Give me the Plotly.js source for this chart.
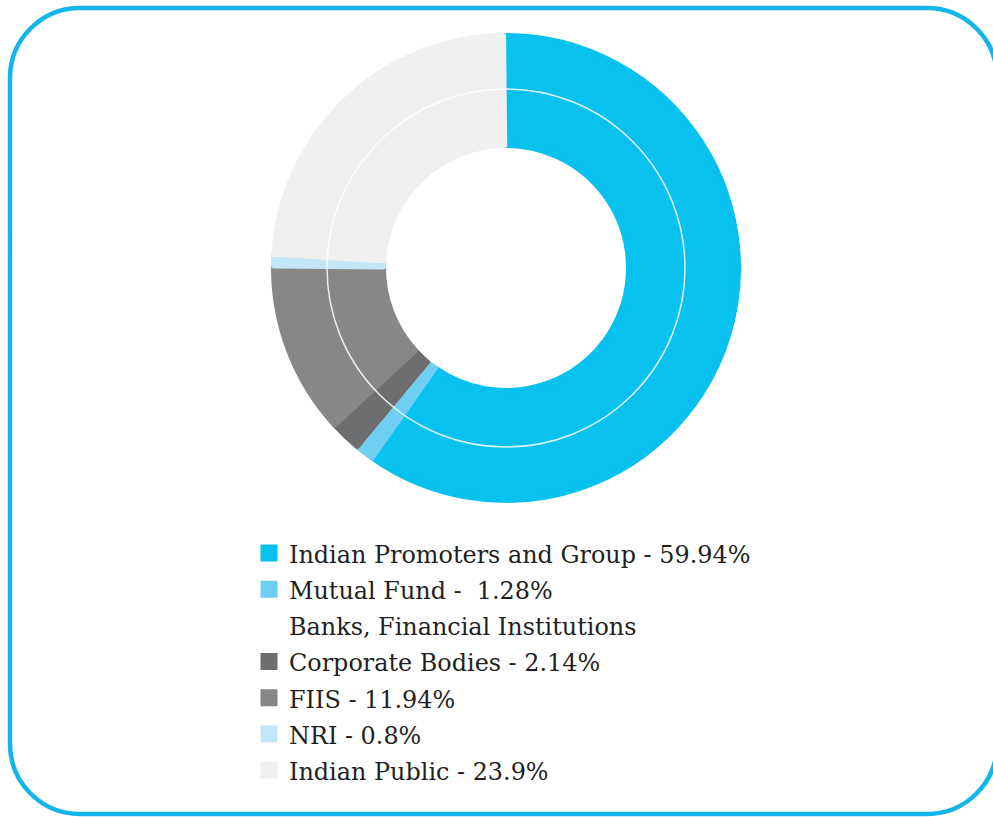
<!DOCTYPE html>
<html>
<head>
<meta charset="utf-8">
<script src="https://cdn.plot.ly/plotly-3.0.1.min.js"></script>
<style>
  html, body { margin: 0; padding: 0; background: #ffffff; }
  #chart { width: 993px; height: 817px; }
</style>
</head>
<body>
<div id="chart"></div>
<script>
// ---- data ----
const categories = [
  "Indian Promoters and Group",
  "Mutual Fund",
  "Banks, Financial Institutions",
  "Corporate Bodies",
  "FIIS",
  "NRI",
  "Indian Public"
];
const shareValues = [59.94, 1.28, 0, 2.14, 11.94, 0.8, 23.9];
const legendLabels = [
  "Indian Promoters and Group - 59.94%",
  "Mutual Fund - \u00a01.28%",
  "Banks, Financial Institutions",
  "Corporate Bodies - 2.14%",
  "FIIS - 11.94%",
  "NRI - 0.8%",
  "Indian Public - 23.9%"
];
const sliceColors = ["#08c1ef", "#6fcff3", "#ffffff", "#6d6e70", "#878787", "#c3e6f7", "#f0f0f0"];

// ---- geometry helpers (pixel -> paper) ----
const W = 993, H = 817;
const px = x => x / W;
const py = y => 1 - y / H;

const cx = 506, cy = 268, R = 232.5;
const holePx = 122.5;

const trace = {
  type: "pie",
  labels: legendLabels.map(s => '<span style="font-size:23.9px">' + s + '</span>'),
  values: shareValues,
  customdata: categories,
  sort: false,
  direction: "clockwise",
  rotation: -0.6,
  hole: holePx / R,
  textinfo: "none",
  hovertemplate: "%{customdata}: %{value}%<extra></extra>",
  marker: { colors: sliceColors, line: { color: sliceColors, width: 5 } },
  domain: { x: [px(cx - R), px(cx + R)], y: [py(cy + R), py(cy - R)] }
};

// rounded frame
const L = 10, T = 8, Rr = 997, B = 814, r = 70, k = 0.5523 * r;
const P = (x, y) => px(x) + "," + py(y);
const framePath =
  "M" + P(L + r, T) +
  " L" + P(Rr - r, T) +
  " C" + P(Rr - r + k, T) + " " + P(Rr, T + r - k) + " " + P(Rr, T + r) +
  " L" + P(Rr, B - r) +
  " C" + P(Rr, B - r + k) + " " + P(Rr - r + k, B) + " " + P(Rr - r, B) +
  " L" + P(L + r, B) +
  " C" + P(L + r - k, B) + " " + P(L, B - r + k) + " " + P(L, B - r) +
  " L" + P(L, T + r) +
  " C" + P(L, T + r - k) + " " + P(L + r - k, T) + " " + P(L + r, T) + " Z";

const ringR = 179;

const layout = {
  width: W, height: H,
  margin: { l: 0, r: 0, t: 0, b: 0 },
  paper_bgcolor: "#ffffff",
  plot_bgcolor: "#ffffff",
  showlegend: true,
  legend: {
    x: px(249), xanchor: "left",
    y: py(530), yanchor: "top",
    bgcolor: "rgba(0,0,0,0)",
    borderwidth: 0,
    traceorder: "normal",
    font: { family: "DejaVu Serif", size: 25.5, color: "#231f20" }
  },
  shapes: [
    {
      type: "path", xref: "paper", yref: "paper", path: framePath,
      line: { color: "#13b5ea", width: 4.5 }, fillcolor: "rgba(0,0,0,0)", layer: "above"
    },
    {
      type: "circle", xref: "paper", yref: "paper",
      x0: px(cx - ringR), x1: px(cx + ringR), y0: py(cy + ringR), y1: py(cy - ringR),
      line: { color: "rgba(255,255,255,0.85)", width: 1.5 }, layer: "above"
    }
  ]
};

Plotly.newPlot("chart", [trace], layout, { displayModeBar: false, staticPlot: false });
</script>
</body>
</html>
